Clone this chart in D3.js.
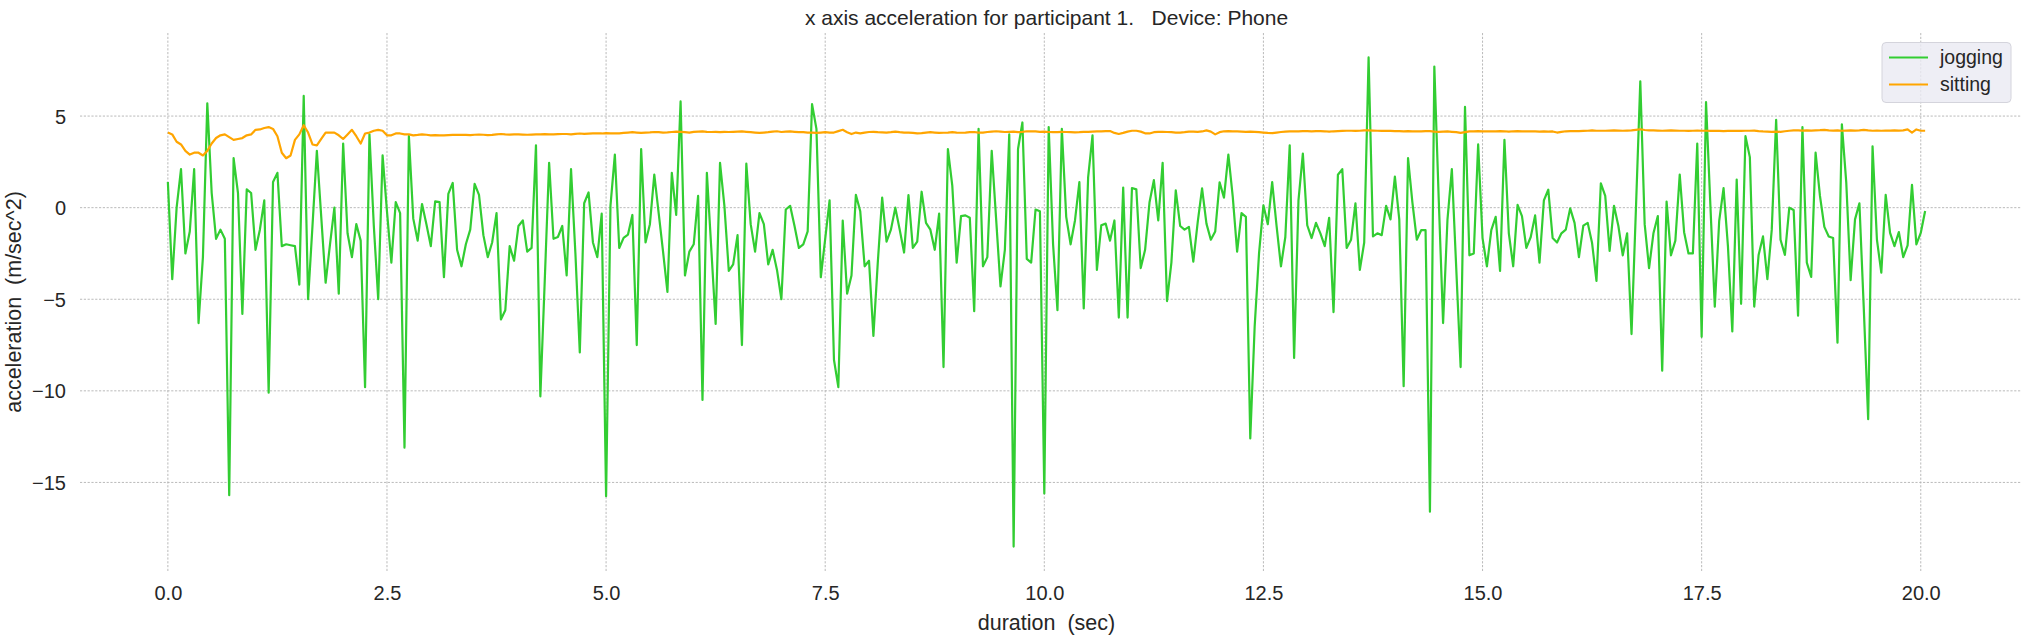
<!DOCTYPE html>
<html>
<head>
<meta charset="utf-8">
<script src="https://cdn.jsdelivr.net/npm/d3@7"></script>
<style>
  body { margin: 0; background: #ffffff; }
  svg { display: block; }
  text { font-family: "Liberation Sans", Arial, Helvetica, sans-serif; fill: #262626; }
</style>
</head>
<body>
<svg id="chart" width="2026" height="638"></svg>
<script>
// ---------------- data ----------------
const sampleRateHz = 20;                      // samples per second
const seriesNames  = ["jogging", "sitting"];
const seriesColors = ["#32cd32", "#ffa500"];
const xTickValues  = [0, 2.5, 5, 7.5, 10, 12.5, 15, 17.5, 20];
const yTickValues  = [-15, -10, -5, 0, 5];
const titleText    = "x axis acceleration for participant 1.   Device: Phone";
const xLabelText   = "duration  (sec)";
const yLabelText   = "acceleration  (m/sec^2)";

// jogging, x-axis acceleration (m/sec^2), samples 0..401
const joggingA = [1.4,-3.9,0.0,2.1,-2.5,-1.3,2.1,-6.3,-2.7,5.7,
  0.8,-1.7,-1.2,-1.7,-15.7,2.7,0.8,-5.8,1.0,0.8,
  -2.3,-1.2,0.4,-10.1,1.4,1.9,-2.1,-2.0,-2.05,-2.1,
  -4.2,6.1,-5.0,-1.0,3.1,-0.5,-4.1,-2.0,0.0,-4.7,
  3.5,-1.4,-2.7,-0.9,-1.8,-9.8,4.0,-1.0,-5.0,2.85,
  -0.2,-3.0,0.3,-0.3,-13.1,3.9,-0.6,-1.8,0.2,-0.9,
  -2.1,0.35,0.3,-3.8,0.75,1.35,-2.3,-3.2,-2.0,-1.2,
  1.3,0.7,-1.5,-2.7,-1.9,-0.3,-6.1,-5.6,-2.1,-2.9,
  -1.0,-0.7,-2.4,-2.2,3.4,-10.3,-4.0,2.45,-1.7,-1.6,
  -1.0,-3.7,2.1,-2.5,-7.9,0.24,0.83,-1.9,-2.7,-0.33,
  -15.75,0.1,2.9,-2.2,-1.65,-1.47,-0.4,-7.5,3.2,-1.9,
  -0.9,1.8,-0.3,-2.4,-4.6,1.9,-0.4,5.8,-3.7,-2.4,
  -2.0,0.64,-10.5,1.9,-2.2,-6.35,2.45,0.1,-3.45,-3.1,
  -1.5,-7.5,2.4,-0.9,-2.4,-0.3,-0.9,-3.1,-2.3,-3.4,
  -5.0,-0.1,0.1,-1.0,-2.2,-2.0,-1.3,5.65,4.3,-3.8,
  -1.7,0.4,-8.3,-9.8,-0.7,-4.7,-3.7,0.7,-0.2,-3.2,
  -2.9,-7.0,-3.0,0.55,-1.85,-1.2,0.0,-1.2,-2.45,0.68,
  -2.2,-1.85,0.87,-0.83,-1.2,-2.3,-0.33,-8.7,3.2,1.2,
  -3.0,-0.46,-0.42,-0.55,-5.65,4.3,-3.2,-2.7,3.1,-0.6,
  -4.3,-2.3,4.0,-18.5,3.2,4.65,-2.8,-3.0,-0.1,-0.2,
  -15.6,4.4,-2.0,-5.6,4.3,-0.5,-2.0,-0.7,1.4];
const joggingB = [-5.5,1.65,3.95,-3.4,-0.96,-0.87,-1.8,-0.7,-6.0,1.1,
  -6.0,1.07,1.0,-3.3,-2.3,0.28,1.5,-0.7,2.45,-5.1,
  -3.0,0.95,-1.0,-1.2,-1.05,-2.95,-0.8,1.05,-0.87,-1.75,
  -1.3,1.38,0.55,2.9,0.6,-2.4,-0.3,-0.5,-12.6];
const joggingC = [-6.5,-2.5,0.13,-0.9,1.4,-1.0,-3.2,-1.6,3.4,-8.2,
  0.4,2.95,-0.96,-1.66,-0.83,-1.4,-2.1,-0.55,-5.7,1.8,
  2.1,-2.2,-1.75,0.24,-3.4,-1.9,8.2,-1.57,-1.4,-1.5,
  0.1,-0.64,1.7,-0.64,-9.75,2.7,0.28,-1.75,-1.23,-1.23,
  -16.6];
const joggingD = [7.7,0.5,-6.3,-0.65,2.1,-3.3,-8.7,5.5,-2.6,-2.5,
  3.45,-1.66,-3.2,-1.23,-0.5,-3.45,3.7,-1.4,-3.2,0.15,
  -0.46,-2.2,-1.6,-0.42,-3.0,0.4,0.98,-1.66,-1.9,-1.4,
  -1.2,-0.04,-0.83,-2.7,-0.98,-0.83,-1.93,-4.0,1.33];
const joggingE = [0.64,-2.36,0.1,-1.0,-2.6,-1.4,-6.9,-0.1,6.9,-0.9,
  -3.3,-1.4,-0.46,-8.9,0.33,-2.6,-1.8,1.8,-1.34,-2.5,
  -2.5,3.5,-7.05,5.76,0.1,-5.4,-0.74,1.07,-2.1,-6.76,
  1.53,-5.25,3.9,2.76,-5.4,-2.58,-1.57,-3.9,-1.2,4.8];
const joggingF = [-1.75,-2.58,0.0,-0.13,-5.9,4.4,-3.0,-3.78,3.0,0.64,
  -1.05,-1.57,-1.66,-7.37,4.55,1.38,-3.96,-0.64,0.24,-5.5,
  -11.55,3.35,-1.75,-3.55,0.7,-1.38,-2.1,-1.33,-2.7,-2.06,
  1.25,-2.0,-1.38,-0.18];

// sitting, x-axis acceleration (m/sec^2), samples 0..401
const sittingA = [4.1,4.0,3.6,3.45,3.1,2.9,3.0,3.0,2.85,3.1,
  3.5,3.8,3.95,4.0,3.85,3.7,3.75,3.8,3.95,4.0,
  4.25,4.27,4.35,4.4,4.3,3.9,3.0,2.7,2.85,3.7,
  4.0,4.5,4.1,3.45,3.4,3.75,4.1,4.1,4.1,3.95,
  3.75,4.0,4.25,3.9,3.5,4.05,4.1,4.2,4.25,4.2,
  3.95,3.95,4.05,4.05,4.0,4.0];
const sittingB = [3.95,3.97,4.0,3.98,3.95,3.96,3.95,3.95,3.96,3.97,
  3.97,3.98,3.97,3.96,3.98,3.99,3.98,3.96,3.97,4.0,
  4.02,4.0,3.99,4.0,4.0,3.99,3.98,3.99,4.0,4.0,
  4.01,4.0,4.0,4.01,4.02];
const sittingC = [4.02,4.0,4.03,4.05,4.03,4.04,4.05,4.06,4.05,4.07,
  4.06,4.05,4.06,4.08,4.1,4.12,4.1,4.08,4.1,4.11,
  4.13,4.12,4.1,4.11,4.13,4.15,4.14,4.12,4.1,4.14,
  4.15,4.16,4.14,4.13,4.14,4.12,4.14,4.13];
const sittingD = [4.14,4.15,4.16,4.14,4.12,4.1,4.08,4.1,4.12,4.15,
  4.17,4.13,4.15,4.16,4.14,4.12,4.12,4.1,4.1,4.08,
  4.1,4.12,4.1,4.1,4.18,4.25,4.12,4.02,4.1,4.06,
  4.1,4.13,4.14,4.12,4.11,4.1,4.12,4.15,4.12,4.1];
const sittingE = [4.1,4.08,4.06,4.07,4.1,4.12,4.1,4.08,4.09,4.1,
  4.12,4.1,4.09,4.1,4.12,4.13,4.1,4.1,4.13,4.15,
  4.17,4.15,4.13,4.14,4.15,4.12,4.14,4.17,4.17,4.16,
  4.14,4.15,4.13,4.12,4.12,4.14,4.13,4.12,4.11,4.12];
const sittingF = [4.14,4.14,4.15,4.16,4.17,4.18,4.18,4.08,4.02,4.08,
  4.15,4.2,4.2,4.15,4.06,4.05,4.12,4.14,4.14,4.13,
  4.12,4.1,4.1,4.12,4.15,4.15,4.14,4.16,4.22,4.15,
  4.0,4.12,4.17,4.18,4.17,4.16,4.15,4.14,4.15];
const sittingG = [4.14,4.12,4.1,4.08,4.07,4.1,4.13,4.15,4.16,4.17,
  4.17,4.18,4.18,4.17,4.18,4.18,4.17,4.15,4.17,4.18,
  4.19,4.2,4.2,4.19,4.2,4.22,4.22,4.21,4.2,4.19,
  4.2,4.19,4.18,4.18,4.17,4.18,4.17,4.16,4.17,4.18,
  4.18];
const sittingH = [4.15,4.14,4.15,4.16,4.14,4.12,4.08,4.12,4.16,4.17,
  4.18,4.17,4.16,4.16,4.17,4.18,4.17,4.15,4.17,4.18,
  4.17,4.16,4.17,4.16,4.15,4.16,4.15,4.16,4.1,4.14,
  4.17,4.18,4.18,4.18,4.19,4.2,4.22,4.2,4.2];
const sittingI = [4.2,4.21,4.22,4.21,4.2,4.21,4.22,4.25,4.28,4.24,
  4.22,4.22,4.21,4.2,4.21,4.22,4.21,4.2,4.2,4.19,
  4.2,4.21,4.2,4.2,4.19,4.19,4.19,4.18,4.19,4.19,
  4.19,4.19,4.2,4.2,4.21,4.18,4.16,4.15,4.14,4.15];
const sittingJ = [4.14,4.17,4.2,4.22,4.22,4.21,4.22,4.21,4.22,4.23,
  4.25,4.22,4.21,4.22,4.2,4.21,4.22,4.21,4.22,4.25,
  4.22,4.2,4.21,4.2,4.21,4.21,4.22,4.21,4.22,4.27,
  4.1,4.27,4.2,4.2];

const jogging = [].concat(joggingA, joggingB, joggingC, joggingD, joggingE, joggingF);
const sitting = [].concat(sittingA, sittingB, sittingC, sittingD, sittingE, sittingF,
                          sittingG, sittingH, sittingI, sittingJ);
const seriesValues = [jogging, sitting];

// ---------------- chart ----------------
const svg = d3.select("#chart");
const plot = { left: 80, right: 2021, top: 33, bottom: 571 };

function padded(ext) { const p = (ext[1] - ext[0]) * 0.05; return [ext[0] - p, ext[1] + p]; }
const nSamples = d3.max(seriesValues, s => s.length);
const timeExtent = [0, (nSamples - 1) / sampleRateHz];

const x = d3.scaleLinear().domain(padded(timeExtent)).range([plot.left, 2013]);
const y = d3.scaleLinear().domain(padded(d3.extent(jogging.concat(sitting)))).range([plot.bottom, plot.top]);

// grid
const grid = svg.append("g").attr("class", "grid")
  .attr("stroke", "#b2b2b2").attr("stroke-width", 0.9).attr("stroke-dasharray", "2.2,1.6");
grid.selectAll("line.v").data(xTickValues).join("line").attr("class", "v")
  .attr("x1", d => x(d)).attr("x2", d => x(d)).attr("y1", plot.top).attr("y2", plot.bottom);
grid.selectAll("line.h").data(yTickValues).join("line").attr("class", "h")
  .attr("x1", plot.left).attr("x2", plot.right).attr("y1", d => y(d)).attr("y2", d => y(d));

// axes
const xAxis = d3.axisBottom(x).tickValues(xTickValues).tickFormat(d3.format(".1f"))
  .tickSize(0).tickPadding(15);
const gx = svg.append("g").attr("transform", `translate(0,${plot.bottom})`).call(xAxis);
const yAxis = d3.axisLeft(y).tickValues(yTickValues).tickFormat(d3.format("d"))
  .tickSize(0).tickPadding(14);
const gy = svg.append("g").attr("transform", `translate(${plot.left},0)`).call(yAxis);
[gx, gy].forEach(g => {
  g.select(".domain").remove();
  g.selectAll("text").attr("font-size", "20px").attr("fill", "#262626")
    .style("font-family", '"Liberation Sans", Arial, sans-serif');
});
gy.selectAll("text").attr("dy", "0.35em");

// lines
const line = d3.line()
  .x((d, i) => x(i / sampleRateHz))
  .y(d => y(d));
svg.append("g").selectAll("path").data(seriesValues).join("path")
  .attr("d", d => line(d))
  .attr("fill", "none")
  .attr("stroke", (d, i) => seriesColors[i])
  .attr("stroke-width", 2.2)
  .attr("stroke-linejoin", "round");

// title and labels
svg.append("text").attr("x", (plot.left + 2013) / 2).attr("y", 25)
  .attr("text-anchor", "middle").attr("font-size", "21px")
  .style("white-space", "pre").text(titleText);
svg.append("text").attr("x", (plot.left + 2013) / 2).attr("y", 630)
  .attr("text-anchor", "middle").attr("font-size", "21.5px")
  .style("white-space", "pre").text(xLabelText);
svg.append("text").attr("transform", `translate(21,${(plot.top + plot.bottom) / 2}) rotate(-90)`)
  .attr("text-anchor", "middle").attr("font-size", "21.5px")
  .style("white-space", "pre").text(yLabelText);

// legend
const lg = { x: 1882, y: 42.5, w: 129, h: 60, rowY: [57.5, 84.5] };
const legend = svg.append("g");
legend.append("rect").attr("x", lg.x).attr("y", lg.y).attr("width", lg.w).attr("height", lg.h)
  .attr("rx", 4).attr("fill", "#eaeaf2").attr("fill-opacity", 0.8)
  .attr("stroke", "#d4d4dc").attr("stroke-width", 1);
const rows = legend.selectAll("g.row").data(seriesNames).join("g").attr("class", "row")
  .attr("transform", (d, i) => `translate(0,${lg.rowY[i]})`);
rows.append("line").attr("x1", lg.x + 7).attr("x2", lg.x + 46).attr("y1", 0).attr("y2", 0)
  .attr("stroke", (d, i) => seriesColors[i]).attr("stroke-width", 2.2);
rows.append("text").attr("x", lg.x + 58).attr("y", 0).attr("dy", "0.35em")
  .attr("font-size", "19.5px").text(d => d);
</script>
</body>
</html>
